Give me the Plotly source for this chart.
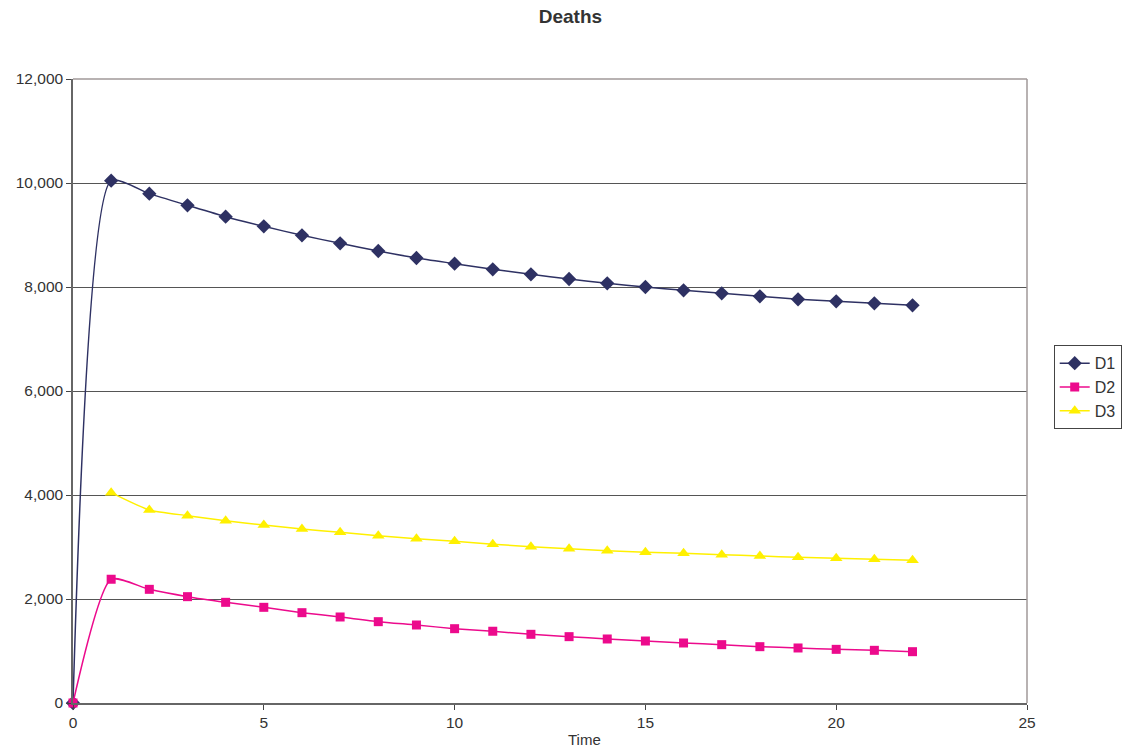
import plotly.graph_objects as go

time = list(range(0, 23))
d1 = [0, 10044, 9795, 9571, 9352, 9167, 8994, 8840, 8692, 8558, 8449, 8340,
      8244, 8154, 8071, 8000, 7936, 7878, 7821, 7763, 7724, 7686, 7647]
d2 = [0, 2380, 2186, 2045, 1936, 1840, 1737, 1654, 1564, 1500, 1429, 1380,
      1321, 1276, 1231, 1192, 1154, 1122, 1083, 1058, 1032, 1013, 987]
time3 = list(range(1, 23))
d3 = [4045, 3712, 3603, 3506, 3423, 3346, 3282, 3218, 3160, 3109, 3055,
      3006, 2968, 2929, 2897, 2878, 2852, 2827, 2801, 2782, 2763, 2744]

FONT = "Liberation Sans, Arial, sans-serif"

fig = go.Figure()
fig.add_trace(go.Scatter(x=time, y=d1, name="D1", mode="lines+markers", cliponaxis=False,
                         line=dict(color="#2E3163", width=1.5, shape="spline", smoothing=0.6),
                         marker=dict(symbol="diamond", size=11, color="#2E3163")))
fig.add_trace(go.Scatter(x=time, y=d2, name="D2", mode="lines+markers", cliponaxis=False,
                         line=dict(color="#EC0A8C", width=1.5, shape="spline", smoothing=0.6),
                         marker=dict(symbol="square", size=9, color="#EC0A8C")))
fig.add_trace(go.Scatter(x=time3, y=d3, name="D3", mode="lines+markers", cliponaxis=False,
                         line=dict(color="#FFF000", width=1.5, shape="spline", smoothing=0.6),
                         marker=dict(symbol="triangle-up", size=11, color="#FFF000")))

fig.update_layout(
    width=1134, height=751,
    margin=dict(l=73, r=104, t=79, b=48),
    paper_bgcolor="white", plot_bgcolor="white",
    font=dict(family=FONT, size=15, color="#333333"),
    title=dict(text="<b>Deaths</b>", x=0.503, xanchor="center", y=0.978, yanchor="middle",
               font=dict(family=FONT, size=19, color="#333333")),
    showlegend=True,
    legend=dict(x=1.028, xanchor="left", y=0.506, yanchor="middle",
                bordercolor="#444444", borderwidth=1, bgcolor="white",
                font=dict(family=FONT, size=16, color="#333333"),
                tracegroupgap=0, itemwidth=30),
    xaxis=dict(range=[0, 25], tickvals=[0, 5, 10, 15, 20, 25], showgrid=False,
               zeroline=False, showline=True, linecolor="#666666", linewidth=1.5,
               mirror=False, ticks="outside", ticklen=5, tickcolor="#444444",
               tickfont=dict(family=FONT, size=15.5, color="#333333")),
    yaxis=dict(range=[0, 12000], tickvals=[0, 2000, 4000, 6000, 8000, 10000, 12000],
               tickformat=",", showgrid=True, gridcolor="#555555", gridwidth=1,
               zeroline=False, showline=True, linecolor="#666666", linewidth=1.5,
               ticks="outside", ticklen=5, tickcolor="#444444",
               tickfont=dict(family=FONT, size=15.5, color="#333333")),
    shapes=[dict(type="line", xref="paper", yref="paper", x0=1, x1=1, y0=0, y1=1,
                 line=dict(color="#A09898", width=1.5)),
            dict(type="line", xref="paper", yref="paper", x0=0, x1=1, y0=1, y1=1,
                 line=dict(color="#A09898", width=1.5))],
    annotations=[dict(text="Time", xref="paper", yref="paper", x=0.536, y=-0.059,
                      xanchor="center", yanchor="middle", showarrow=False,
                      font=dict(family=FONT, size=15, color="#333333"))],
)

fig.write_html("out.html", config={"displayModeBar": False},
               post_script="document.body.style.margin='0';document.body.style.overflow='hidden';")
